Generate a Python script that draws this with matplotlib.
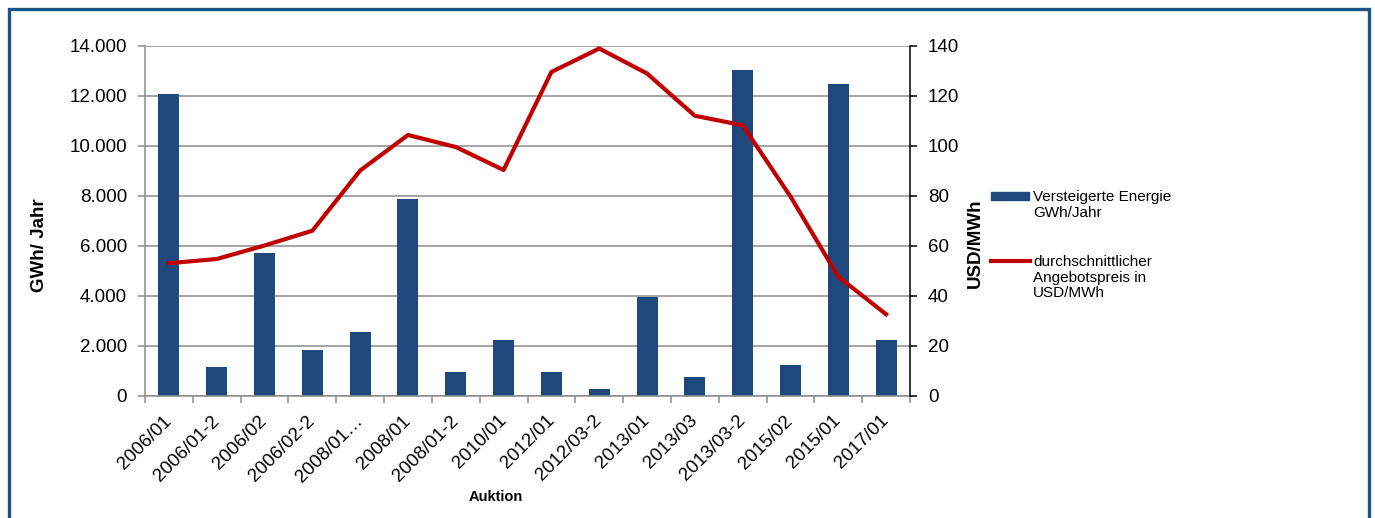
import matplotlib.pyplot as plt
from matplotlib.patches import Rectangle
from matplotlib.lines import Line2D
from matplotlib.ticker import FuncFormatter, FixedLocator

plt.rcParams['font.family'] = ['Liberation Sans', 'DejaVu Sans']

auktionen = ['2006/01', '2006/01-2', '2006/02', '2006/02-2', '2008/01…', '2008/01',
             '2008/01-2', '2010/01', '2012/01', '2012/03-2', '2013/01', '2013/03',
             '2013/03-2', '2015/02', '2015/01', '2017/01']
energie = [12100, 1150, 5730, 1840, 2560, 7870, 970, 2240, 970, 290, 3950, 770,
           13040, 1240, 12470, 2240]
preis = [53.1, 54.8, 60.2, 66.1, 90.2, 104.4, 99.6, 90.4, 129.6, 139.0, 129.0, 112.1,
         108.3, 79.8, 47.7, 32.7]

blau = '#1F497D'
rot = '#C00000'
grau = '#8C8C8C'

fig = plt.figure(figsize=(13.75, 5.18), dpi=100)
ax = fig.add_axes([145 / 1375, 122 / 518, 765 / 1375, 350 / 518])
x = list(range(len(auktionen)))

ax.bar(x, energie, width=0.44, color=blau, zorder=2)
ax.set_xlim(-0.5, len(auktionen) - 0.5)
ax.set_ylim(0, 14000)
ax.set_yticks(range(0, 14001, 2000))
ax.yaxis.set_major_formatter(FuncFormatter(lambda v, p: f'{int(v):,}'.replace(',', '.')))
ax.grid(axis='y', color=grau, lw=1.1)
ax.set_axisbelow(True)

ax.set_xticks(x)
ax.set_xticklabels(auktionen, rotation=45, ha='right', va='center', rotation_mode='anchor')
ax.tick_params(axis='x', length=0, pad=16, labelsize=13.5)
ax.xaxis.set_minor_locator(FixedLocator([i - 0.5 for i in range(len(auktionen) + 1)]))
ax.tick_params(axis='x', which='minor', length=5, color=grau, width=1.1)
ax.tick_params(axis='y', length=5, color=grau, width=1.1, pad=8, labelsize=13.5)

for s in ['top', 'right']:
    ax.spines[s].set_visible(False)
for s in ['left', 'bottom']:
    ax.spines[s].set_color(grau)
    ax.spines[s].set_linewidth(1.1)

ax2 = ax.twinx()
ax2.plot(x, preis, color=rot, lw=3, solid_joinstyle='round', zorder=3)
ax2.set_ylim(0, 140)
ax2.set_yticks(range(0, 141, 20))
ax2.tick_params(axis='y', length=5, color='black', width=1.1, pad=8, labelsize=13.5)
for s in ['top', 'left', 'bottom']:
    ax2.spines[s].set_visible(False)
ax2.spines['right'].set_linewidth(1.1)

# Achsentitel
fig.text(40 / 1375, 1 - 245 / 518, 'GWh/ Jahr', rotation=90, ha='center', va='center',
         fontsize=13.5, fontweight='bold')
fig.text(975 / 1375, 1 - 243 / 518, 'USD/MWh', rotation=90, ha='center', va='center',
         fontsize=13.5, fontweight='bold')
fig.text(496 / 1375, 1 - 497 / 518, 'Auktion', ha='center', va='center',
         fontsize=10.5, fontweight='bold')

# Legende
fig.add_artist(Rectangle((991 / 1375, 1 - 200 / 518), 38 / 1375, 8 / 518,
                         transform=fig.transFigure, color=blau))
fig.text(1033 / 1375, 1 - 190 / 518, 'Versteigerte Energie\nGWh/Jahr', ha='left', va='top',
         fontsize=11, linespacing=1.15)
fig.add_artist(Line2D([991 / 1375, 1030 / 1375], [1 - 261 / 518, 1 - 261 / 518],
                      transform=fig.transFigure, color=rot, lw=3))
fig.text(1033 / 1375, 1 - 255 / 518, 'durchschnittlicher\nAngebotspreis in\nUSD/MWh',
         ha='left', va='top', fontsize=11, linespacing=1.15)

# Rahmen
fig.add_artist(Rectangle((8.5 / 1375, -0.1), (1368.5 - 8.5) / 1375, 1.1 - 9.5 / 518,
                         transform=fig.transFigure, fill=False, ec='#1A5589', lw=2.4))

fig.savefig('out.png', dpi=100)
